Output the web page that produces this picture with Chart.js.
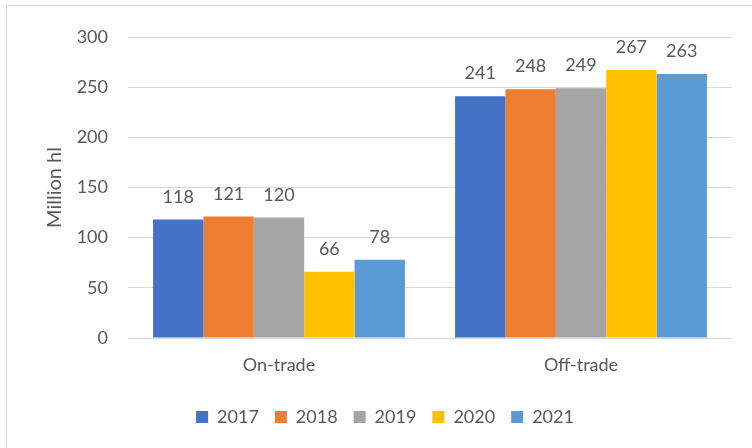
<!DOCTYPE html>
<html>
<head>
<meta charset="utf-8">
<script src="https://cdn.jsdelivr.net/npm/chart.js@4/dist/chart.umd.min.js"></script>
<style>
  html, body { margin: 0; padding: 0; background: #fff; overflow: hidden; }
  #marco { position: absolute; left: 6px; top: 5px; width: 800px; height: 500px; border: 1px solid #d9d9d9; }
  #caja { position: absolute; left: 0; top: 0; width: 752px; height: 448px; }
</style>
</head>
<body>
<div id="marco"></div>
<div id="caja"><canvas id="chart"></canvas></div>
<script>
'use strict'

const categorias = ['On-trade', 'Off-trade'];
const anios = ['2017', '2018', '2019', '2020', '2021'];
const colores = ['#4472C4', '#ED7D31', '#A5A5A5', '#FFC000', '#5B9BD5'];
const valores = [
    [118, 241],
    [121, 248],
    [120, 249],
    [66, 267],
    [78, 263]
];
const ticksY = [0, 50, 100, 150, 200, 250, 300];

const gris = '#595959';
const fuente = 'Lato, "Open Sans", sans-serif';

// etiquetas encima de cada barra
const etiquetas = {
    id: 'etiquetas',
    afterDatasetsDraw(chart) {
        const ctx = chart.ctx;
        ctx.save();
        ctx.font = '18px ' + fuente;
        ctx.fillStyle = gris;
        ctx.textAlign = 'center';
        ctx.textBaseline = 'alphabetic';
        chart.data.datasets.forEach((ds, i) => {
            const meta = chart.getDatasetMeta(i);
            meta.data.forEach((barra, j) => {
                ctx.fillText(ds.data[j], barra.x, barra.y - 17);
            });
        });
        ctx.restore();
    }
};

function dibujar() {
    const ctx = document.getElementById('chart').getContext('2d');
    const datasets = anios.map((a, i) => ({
        label: a,
        data: valores[i],
        backgroundColor: colores[i],
        borderWidth: 0,
        categoryPercentage: 0.834,
        barPercentage: 1.0
    }));

    new Chart(ctx, {
        type: 'bar',
        data: { labels: categorias, datasets: datasets },
        plugins: [etiquetas],
        options: {
            responsive: false,
            animation: false,
            devicePixelRatio: 1,
            layout: { padding: { left: 38, right: 20, top: 37, bottom: 12 } },
            plugins: {
                tooltip: { enabled: false },
                legend: {
                    position: 'bottom',
                    labels: {
                        boxWidth: 12,
                        boxHeight: 12,
                        padding: 16,
                        color: gris,
                        font: { family: fuente, size: 18 }
                    }
                }
            },
            scales: {
                x: {
                    grid: { display: false, drawTicks: false },
                    border: { display: false },
                    ticks: { color: gris, padding: 16, font: { family: fuente, size: 18 } },
                    afterFit: (s) => { s.height = 54; }
                },
                y: {
                    min: 0,
                    max: 300,
                    afterBuildTicks: (s) => { s.ticks = ticksY.map(v => ({ value: v })); },
                    grid: { color: '#d9d9d9', lineWidth: 1, drawTicks: false },
                    border: { display: false },
                    ticks: { color: gris, padding: 20, font: { family: fuente, size: 18 } },
                    title: {
                        display: true,
                        text: 'Million hl',
                        color: gris,
                        padding: { top: 5, bottom: 0 },
                        font: { family: fuente, size: 20 }
                    },
                    afterFit: (s) => { s.width = 90; }
                }
            }
        }
    });
}

const cv = document.getElementById('chart');
cv.width = 752;
cv.height = 448;
dibujar();
</script>
</body>
</html>
